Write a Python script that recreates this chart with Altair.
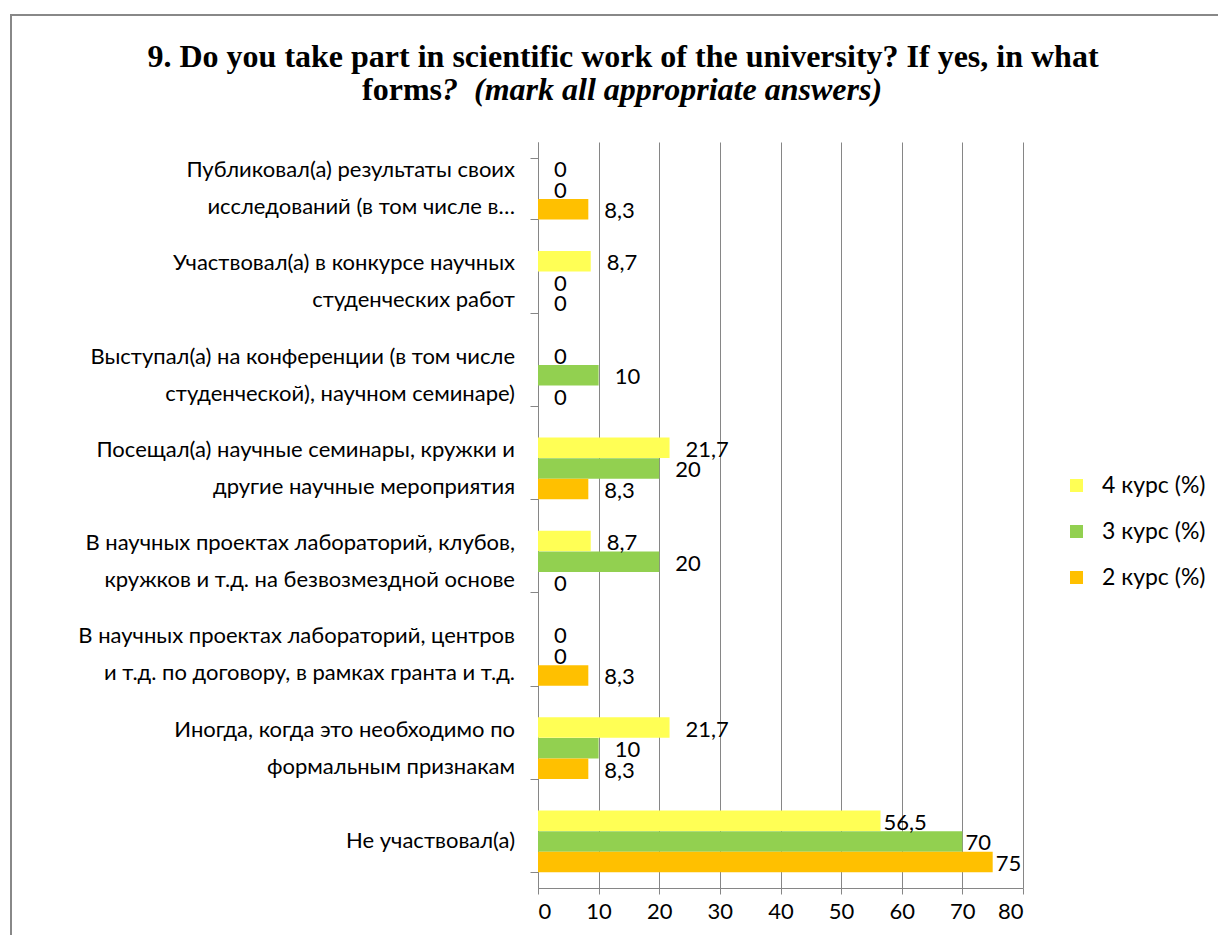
import altair as alt
import pandas as pd

categories = [
    "Публиковал(а) результаты своих\nисследований (в том числе в…",
    "Участвовал(а) в конкурсе научных\nстуденческих работ",
    "Выступал(а) на конференции (в том числе\nстуденческой), научном семинаре)",
    "Посещал(а) научные семинары, кружки и\nдругие научные мероприятия",
    "В научных проектах лабораторий, клубов,\nкружков и т.д. на безвозмездной основе",
    "В научных проектах лабораторий, центров\nи т.д. по договору, в рамках гранта и т.д.",
    "Иногда, когда это необходимо по\nформальным признакам",
    "Не участвовал(а)",
]
series = ["4 курс (%)", "3 курс (%)", "2 курс (%)"]
kurs4 = [0, 8.7, 0, 21.7, 8.7, 0, 21.7, 56.5]
kurs3 = [0, 0, 10, 20, 20, 0, 10, 70]
kurs2 = [8.3, 0, 0, 8.3, 0, 8.3, 8.3, 75]
colors = ["#FFFF55", "#92D050", "#FFC000"]
x_ticks = [0, 10, 20, 30, 40, 50, 60, 70, 80]

rows = []
for s, vals in zip(series, [kurs4, kurs3, kurs2]):
    for c, v in zip(categories, vals):
        rows.append({"cat": c, "series": s, "value": v})
df = pd.DataFrame(rows)
cat_df = pd.DataFrame({"cat": categories})

FONT = "Lato"
GRAY = "#868686"

y_scale = alt.Scale(domain=categories, paddingInner=0.34, paddingOuter=0.17)
y_enc = alt.Y("cat:N", sort=categories, title=None, scale=y_scale,
              axis=alt.Axis(labels=False, ticks=True, tickBand="extent", tickSize=8,
                            tickColor=GRAY, domainColor=GRAY, domainWidth=1, grid=False))
yoff = alt.YOffset("series:N", sort=series, scale=alt.Scale(paddingInner=0, paddingOuter=0))
x_enc = alt.X("value:Q", title=None,
              scale=alt.Scale(domain=[0, 80], nice=False),
              axis=alt.Axis(values=x_ticks, labelFont=FONT, labelFontSize=22,
                            labelColor="#000", labelPadding=7, tickSize=6, tickColor=GRAY,
                            domainColor=GRAY, gridColor=GRAY, gridWidth=1, grid=True,
                            gridOpacity=1))

base = alt.Chart(df)
bars = base.mark_bar(size=20.5).encode(
    y=y_enc, yOffset=yoff, x=x_enc,
    color=alt.Color("series:N", sort=series,
                    scale=alt.Scale(domain=series, range=colors),
                    legend=alt.Legend(title=None, orient="none", legendX=527, legendY=332,
                                      symbolType="square", symbolSize=170,
                                      symbolStrokeWidth=0, labelFont=FONT,
                                      labelFontSize=23, labelColor="#000",
                                      rowPadding=22, labelOffset=14, padding=0)),
)

def cat_text(multi, dy):
    cond = "indexof(datum.cat, '\\n') >= 0" if multi else "indexof(datum.cat, '\\n') < 0"
    return alt.Chart(cat_df).transform_filter(cond).mark_text(
        align="right", baseline="middle", lineBreak="\n", lineHeight=37, dy=dy,
        font=FONT, fontSize=22, color="#000"
    ).encode(y=alt.Y("cat:N", sort=categories, scale=y_scale), x=alt.value(-23),
             text="cat:N")

cat_multi = cat_text(True, -18.5)
cat_single = cat_text(False, 0)

lab = base.transform_calculate(
    label="replace(toString(datum.value), '.', ',')"
)
labels_small = lab.transform_filter(
    alt.datum.cat != categories[-1]
).mark_text(align="left", baseline="middle", dx=16, dy=2, font=FONT, fontSize=22,
            color="#000").encode(y=alt.Y("cat:N", sort=categories), yOffset=yoff,
                                 x="value:Q", text="label:N")
labels_big = lab.transform_filter(
    alt.datum.cat == categories[-1]
).mark_text(align="left", baseline="middle", dx=3, dy=2, font=FONT, fontSize=22,
            color="#000").encode(y=alt.Y("cat:N", sort=categories), yOffset=yoff,
                                 x="value:Q", text="label:N")

one = alt.Chart(pd.DataFrame({"a": [0]}))
frame = one.mark_rect(fill=None, stroke="#888888", strokeWidth=2).encode(
    x=alt.value(-527), x2=alt.value(1000), y=alt.value(-127), y2=alt.value(1000))
TFONT = "Liberation Serif"
title1 = one.mark_text(font=TFONT, fontWeight="bold", fontSize=32,
                       align="center", baseline="middle", color="#000").encode(
    x=alt.value(85), y=alt.value(-85),
    text=alt.value("9. Do you take part in scientific work of the university? If yes, in what"))
title2a = one.mark_text(font=TFONT, fontWeight="bold", fontSize=32,
                        align="right", baseline="middle", color="#000").encode(
    x=alt.value(-96), y=alt.value(-52), text=alt.value("forms"))
title2b = one.mark_text(font=TFONT, fontWeight="bold", fontStyle="italic",
                        fontSize=32, align="left", baseline="middle", color="#000").encode(
    x=alt.value(-96), y=alt.value(-52),
    text=alt.value("?\u00a0\u00a0(mark all appropriate answers)"))

chart = alt.layer(frame, bars, cat_multi, cat_single, labels_small, labels_big,
                  title1, title2a, title2b).properties(
    width=485, height=746,
    autosize=alt.AutoSizeParams(type="none"),
    padding={"left": 530, "top": 134, "right": 195, "bottom": 47},
    background="white",
).configure_view(stroke=None)

chart.save("out.html", embed_options={"renderer": "svg", "actions": False})
